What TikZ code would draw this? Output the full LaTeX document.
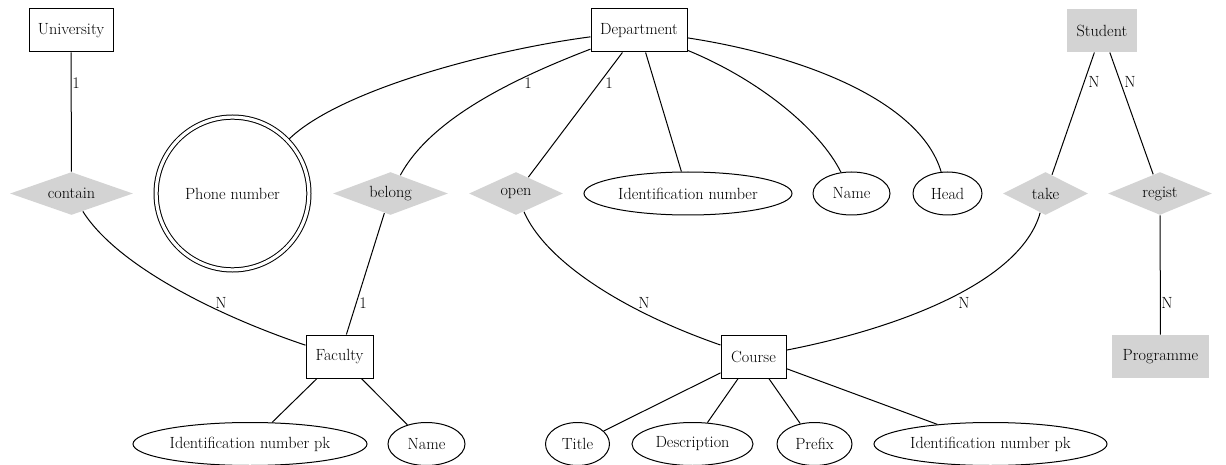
\documentclass[tikz,border=0pt]{standalone}
\usepackage{fontspec}
\usetikzlibrary{shapes.geometric}
\definecolor{relfill}{HTML}{D3D3D3}
\begin{document}
\begin{tikzpicture}[x=1pt,y=-1pt,
  font=\fontsize{16.2}{19}\selectfont,
  every path/.style={line width=1pt},
  entity/.style={rectangle,draw,inner sep=0pt,minimum height=43pt},
  weakent/.style={rectangle,fill=relfill,inner sep=0pt,minimum height=43pt},
  relation/.style={diamond,fill=relfill,inner sep=0pt,aspect=2.5,minimum height=43pt},
  attrib/.style={ellipse,draw,inner sep=0pt,minimum height=43pt},
  multiattr/.style={circle,draw,double,double distance=3.2pt,inner sep=0pt,
    minimum size=152.8pt,outer sep=2.5pt},
  card/.style={inner sep=0pt}]
\useasboundingbox (0,0) rectangle (1226,465);

% entities
\node[entity,minimum width=84pt] (uni) at (71,30.5) {University};
\node[entity,minimum width=96pt] (dept) at (639,30.5) {Department};
\node[weakent,minimum width=70pt] (stud) at (1102,30.5) {Student};
\node[entity,minimum width=67pt] (fac) at (339.5,356.5) {Faculty};
\node[entity,minimum width=65pt] (course) at (753.5,356.5) {Course};
\node[weakent,minimum width=97pt] (prog) at (1160.5,356.5) {Programme};

% relationships
\node[relation,minimum width=123pt] (contain) at (71.5,193.5) {contain};
\node[relation,minimum width=115pt] (belong) at (390.5,193.5) {belong};
\node[relation,minimum width=94pt] (open) at (516,193.5) {open};
\node[relation,minimum width=85pt] (take) at (1045.5,193.5) {take};
\node[relation,minimum width=104pt] (regist) at (1160,193.5) {regist};

% attributes
\node[multiattr] (phone) at (232.5,193.5) {Phone number};
\node[attrib,minimum width=208pt] (idn) at (688,193.5) {Identification number};
\node[attrib,minimum width=77pt] (dname) at (851.5,193.5) {Name};
\node[attrib,minimum width=69pt] (head) at (947.5,193.5) {Head};
\node[attrib,minimum width=234pt] (fid) at (250,444) {Identification number pk};
\node[attrib,minimum width=77pt] (fname) at (426.5,444) {Name};
\node[attrib,minimum width=64pt] (title) at (577.5,444) {Title};
\node[attrib,minimum width=121pt] (desc) at (692.5,444) {Description};
\node[attrib,minimum width=75pt] (prefix) at (814.5,444) {Prefix};
\node[attrib,minimum width=233pt] (cid) at (990.5,444) {Identification number pk};

% relationship links
\draw (uni) -- (contain);
\draw (contain) .. controls (120,270) and (230,320) .. (fac);
\draw (dept) .. controls (510,80) and (430,120) .. (belong);
\draw (belong) -- (fac);
\draw (dept) -- (open);
\draw (open) .. controls (545,260) and (620,310) .. (course);
\draw (stud) -- (take);
\draw (take) .. controls (1020,285) and (890,330) .. (course);
\draw (stud) -- (regist);
\draw (regist) -- (prog);

% attribute links
\draw (dept) .. controls (490,50) and (340,90) .. (phone);
\draw (dept) -- (idn);
\draw (dept) .. controls (760,80) and (820,130) .. (dname);
\draw (dept) .. controls (800,55) and (920,100) .. (head);
\draw (fac) -- (fid);
\draw (fac) -- (fname);
\draw (course) -- (title);
\draw (course) -- (desc);
\draw (course) -- (prefix);
\draw (course) -- (cid);

% cardinalities
\node[card] (c1) at (76,83) {1};
\node[card] (c2) at (221,303) {N};
\node[card] (c3) at (528,83) {1};
\node[card] (c4) at (609,83) {1};
\node[card] (c5) at (363,303) {1};
\node[card] (c6) at (644,303) {N};
\node[card] (c7) at (964,303) {N};
\node[card] (c8) at (1094,82) {N};
\node[card] (c9) at (1130,82) {N};
\node[card] (c10) at (1167,303) {N};
\end{tikzpicture}
\end{document}
